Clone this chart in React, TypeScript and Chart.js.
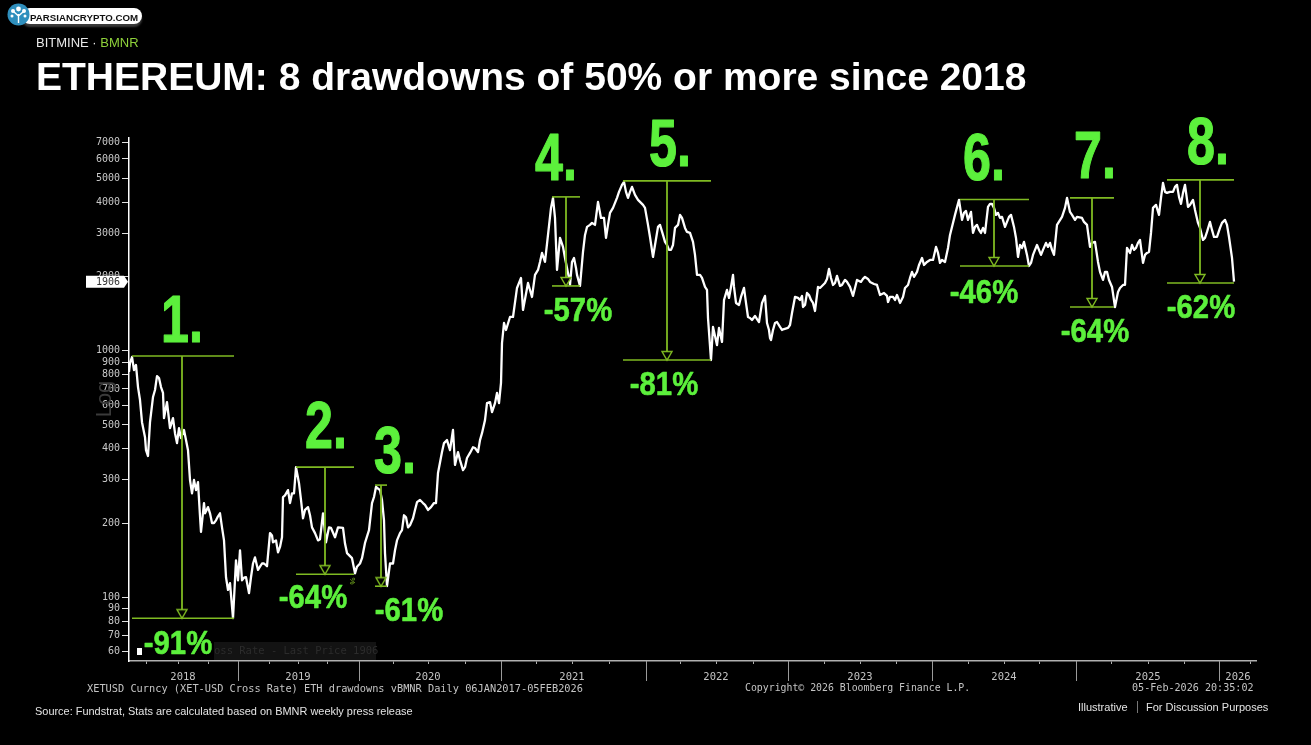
import { useEffect, useRef } from 'react';
import { Chart, registerables } from 'chart.js';

Chart.register(...registerables);

// x is the chart's own session count, counted from the left end of the axis
const sessions = [
  0, 3, 5, 7, 9, 11, 13, 16, 17, 19, 21, 24, 26, 28, 32, 35, 38, 41, 44, 48, 50, 52, 55, 59, 63, 65, 67, 69, 72, 75, 76, 79,
  83, 87, 91, 95, 97, 99, 101, 104, 107, 109, 111, 113, 117, 120, 122, 126, 129, 133, 138, 141, 144, 149, 153, 154, 159, 161, 165, 167, 170, 174,
  179, 183, 189, 194, 197, 202, 206, 214, 218, 223, 226, 231, 236, 243, 247, 251, 253, 255, 256, 258, 261, 264, 268, 271, 275, 279, 284, 288, 294, 299,
  307, 309, 313, 318, 321, 324, 326, 329, 334, 338, 344, 349, 353, 356, 358, 363, 368, 370, 372, 373, 375, 377, 381, 384, 388, 392, 394, 399, 403, 409,
  413, 416, 419, 422, 424, 426, 428, 431, 434, 438, 441, 443, 445, 448, 451, 454, 458, 463, 466, 469, 472, 475, 477, 481, 488, 493, 495, 499, 503, 506,
  511, 516, 519, 524, 529, 534, 538, 542, 546, 551, 556, 561, 564, 568, 573, 578, 579, 582, 584, 588, 590, 593, 595, 598, 600, 604, 607, 610, 615, 619,
  623, 626, 630, 633, 636, 638, 641, 644, 648, 653, 659, 663, 666, 673, 676, 678, 682, 686, 689, 696, 700, 704, 708, 711, 718, 724, 728, 732, 736, 741,
  748, 751, 758, 759, 764, 768, 771, 776, 779, 783, 785, 793, 795, 801, 804, 807, 811, 816, 821, 826, 830, 833, 837, 839, 842, 844, 848, 852, 856, 859,
  863, 867, 871, 876, 882, 885, 889, 891, 895, 900, 904, 908, 912, 917, 921, 925, 928, 933, 938, 941, 946, 953, 958, 961, 966, 969, 974, 978, 983, 986,
  989, 996, 998, 1003, 1007, 1011, 1014, 1018, 1022, 1024, 1030, 1034, 1038, 1044, 1048, 1052, 1056, 1059, 1064, 1069, 1074, 1078, 1081, 1085, 1091, 1096, 1100, 1103, 1105,
];

const prices = [
  820, 943, 835, 875, 712, 631, 513, 446, 395, 374, 513, 649, 693, 789, 712, 533, 619, 485, 533, 422, 485, 442, 477, 395, 264, 299, 272, 293, 184, 241, 219, 232,
  200, 205, 219, 170, 120.5, 107, 114, 82.2, 141, 117, 155, 117, 120.5, 104, 120.5, 145, 129, 137, 133.6, 182, 167, 152, 175, 255, 272, 241, 264, 337, 290, 209,
  232, 192, 170, 219, 167, 191, 175, 191, 151, 144, 125, 137, 166, 241, 280, 272, 248, 205, 151, 111, 137, 137, 170, 182, 215, 192, 209, 243, 241, 226,
  241, 319, 388, 434, 395, 477, 344, 388, 328, 367, 406, 388, 463, 523, 613, 564, 674, 613, 740, 1075, 1296, 1214, 1371, 1371, 1798, 1974, 1464, 1884, 1653, 2128,
  2494, 2293, 2951, 3799, 4172, 3459, 2128, 2869, 2638, 2168, 1849, 2293, 2380, 2031, 1832, 2517, 3180, 3301, 3240, 4018, 3459, 3459, 2869, 3625, 4172, 4710, 4844, 4172, 4622, 4290,
  4018, 3799, 3240, 2402, 3180, 2951, 2687, 2565, 3150, 3558, 3150, 3006, 2764, 2031, 1974, 1765, 1358, 917, 1249, 1055, 1237, 1086, 1607, 1765, 1638, 2031, 1563, 1534, 1798, 1371,
  1333, 1384, 1308, 1563, 1669, 1296, 1127, 1214, 1308, 1214, 1237, 1423, 1653, 1669, 1534, 1716, 1607, 1450, 1815, 1884, 2148, 1849, 2012, 1832, 1902, 1669, 1938, 1902, 1993, 1902,
  1849, 1684, 1669, 1577, 1653, 1684, 1563, 1798, 1849, 2089, 1993, 2380, 2229, 2336, 2336, 2638, 2271, 2293, 2951, 3558, 4094, 3395, 3692, 3395, 3659, 3006, 3240, 3006, 3006, 3834,
  3944, 3558, 3459, 3180, 3558, 3180, 2402, 2687, 2764, 2208, 2448, 2687, 2448, 2739, 2739, 2448, 3240, 3492, 4172, 3659, 3395, 3459, 3240, 2638, 2764, 2293, 1938, 2089, 1815, 1505,
  1732, 1849, 2613, 2687, 2613, 2816, 2271, 2494, 3006, 3799, 3558, 4798, 4370, 4412, 4710, 3944, 4710, 3834, 4094, 3301, 2816, 3035, 3332, 2895, 3150, 3395, 2895, 2380, 1906,
];

// second pass over the trace, the wiggles between the turning points above
const detailSessions = [
  1, 30, 34, 46, 57, 61, 71, 81, 85, 89, 93, 115, 124, 131, 135, 143, 147, 151, 156, 163, 172, 176, 181,
  186, 191, 200, 209, 216, 228, 233, 240, 245, 266, 273, 277, 281, 286, 291, 296, 302, 305, 315, 331, 336, 341, 346, 351, 361, 366,
  406, 411, 436, 440, 447, 456, 461, 479, 484, 490, 497, 501, 509, 514, 521, 526, 531, 536, 540, 544, 549, 553, 558, 566, 571, 576,
  602, 605, 612, 617, 621, 628, 640, 642, 646, 651, 655, 661, 669, 671, 674, 680, 684, 691, 694, 698, 702, 706, 713, 716, 721, 726, 734, 739, 745, 755, 761, 766, 774, 781, 788, 790, 798, 809, 813, 819,
  835, 846, 850, 854, 861, 865, 869, 873, 878, 880, 887, 893, 898, 902, 906, 910, 914, 919, 923, 936, 943, 948, 955, 963, 971, 976, 980, 991, 994,
  1001, 1005, 1009, 1016, 1020, 1027, 1032, 1036, 1041, 1046, 1050, 1054, 1061, 1066, 1071, 1076, 1083, 1088, 1093, 1098,
];

const detailPrices = [
  892, 775, 674, 463, 434, 299, 213, 219, 200, 213, 192, 120, 137, 133, 137, 178, 170, 160, 259, 264, 248, 226, 215,
  182, 172, 192, 192, 165, 133, 144, 187, 255, 155, 187, 211, 196, 226, 248, 237, 232, 241, 422, 360, 337, 385, 403, 434, 619, 613,
  2031, 2293, 2380, 1974, 2168, 2951, 3240, 3240, 3799, 4412, 4412, 4412, 4094, 3906, 2895, 2687, 3240, 2764, 2565, 2687, 3240, 3459, 3035, 2448, 2031, 1815,
  1815, 1815, 1653, 1563, 1358, 1345, 1214, 1106, 1296, 1249, 1225, 1272, 1638, 1607, 1505, 1684, 1563, 1798, 1849, 1956, 1974, 1884, 1849, 1938, 1815, 1798, 1956, 1956, 1866, 1716, 1653, 1607, 1653, 1974, 2089, 2229, 2293, 2494, 2336, 2613,
  3625, 3180, 3092, 3150, 3944, 3799, 3625, 3492, 3332, 3492, 2869, 2613, 2448, 2271, 2565, 2565, 2565, 2638, 2565, 3799, 3558, 3492, 3332, 2739, 2089, 2089, 1938, 1798, 1849,
  2494, 2565, 2739, 2448, 2517, 3906, 4172, 4412, 4412, 4622, 4210, 4370, 3906, 3728, 3150, 2869, 3092, 2895, 3301, 3240,
];

const lastPrice = 1906;

const yTicks = [7000, 6000, 5000, 4000, 3000, 2000, 1000, 900, 800, 700, 600, 500, 400, 300, 200, 100, 90, 80, 70, 60];

const quarterTicks = [
  17, 49, 79, 109, 140, 169, 198, 230, 264, 299, 336, 372, 407, 443, 480, 517, 551, 587, 624, 659, 695, 731, 767, 803, 839, 875, 910, 947, 982, 1019, 1055, 1090, 1121,
];
const yearLabels = ['2018', '2019', '2020', '2021', '2022', '2023', '2024', '2025', '2026'];
const yearCenters = [54, 169, 299, 443, 587, 731, 875, 1019, 1109];
const yearEnds = [109, 230, 372, 517, 659, 803, 947, 1090];

const drawdownNumbers = ['1.', '2.', '3.', '4.', '5.', '6.', '7.', '8.'];
const drawdownPercents = ['-91%', '-64%', '-61%', '-57%', '-81%', '-46%', '-64%', '-62%'];
const peakValues = [952, 337, 285, 4210, 4889, 4110, 4172, 4935];
const troughValues = [82.2, 124, 110.8, 1832, 917, 2208, 1505, 1884];
const rangeStarts = [3, 167, 246, 423, 494, 831, 941, 1038];
const rangeEnds = [105, 225, 258, 451, 582, 900, 985, 1105];
const dropSessions = [53, 196, 252, 437, 538, 865, 963, 1071];

// where the big green text sits on the slide: centre x, baseline y
const numberSpots = [[182, 342], [326, 448], [395, 473], [556, 180], [670, 166], [984, 180], [1095, 178], [1208, 164]];
const percentSpots = [[178, 654], [313, 608], [409, 621], [578, 321], [664, 395], [984, 303], [1095, 342], [1201, 318]];

const GREEN = '#5cf03c';
const OLIVE = '#7fba22';
const MONO = '"DejaVu Sans Mono"';
const SANS = '"Liberation Sans"';

const makeArrow = () => {
  // the tip sits on the canvas centre, so the point lands on the trough value
  const c = document.createElement('canvas');
  c.width = 14;
  c.height = 20;
  const ctx = c.getContext('2d');
  ctx.beginPath();
  ctx.moveTo(2, 1.5);
  ctx.lineTo(12, 1.5);
  ctx.lineTo(7, 10);
  ctx.closePath();
  ctx.fillStyle = '#000';
  ctx.fill();
  ctx.strokeStyle = OLIVE;
  ctx.lineWidth = 1.4;
  ctx.stroke();
  return c;
};

const squeezedText = (ctx, text, x, y, font, squeeze, weight) => {
  ctx.save();
  ctx.translate(x, y);
  ctx.scale(squeeze, 1);
  ctx.font = font;
  ctx.textAlign = 'center';
  ctx.textBaseline = 'alphabetic';
  ctx.fillStyle = GREEN;
  ctx.strokeStyle = GREEN;
  ctx.lineWidth = weight;
  ctx.lineJoin = 'round';
  ctx.fillText(text, 0, 0);
  ctx.strokeText(text, 0, 0);
  ctx.restore();
};

const slidePlugin = {
  id: 'slideMarks',
  beforeDatasetsDraw(chart) {
    const { ctx } = chart;
    const x = chart.scales.x;
    const top = x.top;
    ctx.save();
    // year separators under the axis
    ctx.strokeStyle = '#9a9a9a';
    ctx.lineWidth = 1;
    yearEnds.forEach((v) => {
      const px = Math.round(x.getPixelForValue(v)) + 0.5;
      ctx.beginPath();
      ctx.moveTo(px, top);
      ctx.lineTo(px, top + 20);
      ctx.stroke();
    });
    // Bloomberg legend strip, nearly black on black
    ctx.fillStyle = '#131313';
    ctx.fillRect(130, 642, 246, 18);
    ctx.fillStyle = '#000';
    ctx.fillRect(130, 642, 84, 18);
    ctx.fillStyle = '#2c2c2c';
    ctx.font = `10.5px ${MONO}`;
    ctx.textAlign = 'left';
    ctx.textBaseline = 'middle';
    ctx.fillText('oss Rate - Last Price 1906', 214, 651);
    ctx.fillStyle = '#fff';
    ctx.fillRect(137, 648, 5, 7);
    // rotated axis unit
    ctx.translate(105, 399);
    ctx.rotate(-Math.PI / 2);
    ctx.fillStyle = '#3a3a3a';
    ctx.font = `22px ${SANS}`;
    ctx.textAlign = 'center';
    ctx.fillText('Log', 0, 0);
    ctx.restore();
  },
  afterDraw(chart) {
    const { ctx } = chart;
    const y = chart.scales.y;
    const flagY = y.getPixelForValue(lastPrice);
    ctx.save();
    // last price flag on the value axis
    ctx.fillStyle = '#fff';
    ctx.beginPath();
    ctx.moveTo(86, flagY - 6);
    ctx.lineTo(124, flagY - 6);
    ctx.lineTo(128, flagY);
    ctx.lineTo(124, flagY + 6);
    ctx.lineTo(86, flagY + 6);
    ctx.closePath();
    ctx.fill();
    ctx.fillStyle = '#333';
    ctx.font = `10px ${MONO}`;
    ctx.textAlign = 'left';
    ctx.textBaseline = 'middle';
    ctx.fillText(String(lastPrice), 96, flagY + 0.5);
    // stray percent sign left by the drawing tool
    ctx.translate(352, 581);
    ctx.rotate(Math.PI / 2);
    ctx.fillStyle = OLIVE;
    ctx.font = `8px ${SANS}`;
    ctx.textAlign = 'center';
    ctx.fillText('%', 0, 0);
    ctx.restore();

    drawdownNumbers.forEach((label, i) => {
      squeezedText(ctx, label, numberSpots[i][0], numberSpots[i][1], `bold 67px ${SANS}`, 0.75, 1.2);
    });
    drawdownPercents.forEach((label, i) => {
      squeezedText(ctx, label, percentSpots[i][0], percentSpots[i][1], `bold 34px ${SANS}`, 0.86, 0.6);
    });
  },
};

const ChartCanvas = () => {
  const chartRef = useRef(null);

  useEffect(() => {
    const arrow = makeArrow();
    const hLine = (from, to, value) => ({
      type: 'line',
      data: [{ x: from, y: value }, { x: to, y: value }],
      borderColor: OLIVE,
      borderWidth: 1.6,
      pointRadius: 0,
      order: 1,
    });

    const drawdownSets = [];
    peakValues.forEach((peak, i) => {
      drawdownSets.push(hLine(rangeStarts[i], rangeEnds[i], peak));
      drawdownSets.push(hLine(rangeStarts[i], rangeEnds[i], troughValues[i]));
      drawdownSets.push({
        type: 'line',
        data: [{ x: dropSessions[i], y: peak }, { x: dropSessions[i], y: troughValues[i] }],
        borderColor: OLIVE,
        borderWidth: 1.8,
        pointRadius: [0, 7],
        pointStyle: arrow,
        order: 1,
      });
    });

    const allTicks = [...new Set([...quarterTicks, ...yearCenters])].sort((a, b) => a - b);
    const trace = [
      ...sessions.map((s, i) => ({ x: s, y: prices[i] })),
      ...detailSessions.map((s, i) => ({ x: s, y: detailPrices[i] })),
    ].sort((a, b) => a.x - b.x);

    const chartInstance = new Chart(chartRef.current, {
      type: 'line',
      data: {
        datasets: [
          {
            data: trace,
            borderColor: '#ffffff',
            borderWidth: 2.3,
            borderJoinStyle: 'round',
            pointRadius: 0,
            tension: 0,
            order: 2,
          },
          ...drawdownSets,
        ],
      },
      options: {
        responsive: false,
        animation: false,
        layout: { padding: { left: 0, right: 55, top: 138, bottom: 0 } },
        plugins: { legend: { display: false }, tooltip: { enabled: false } },
        scales: {
          x: {
            type: 'linear',
            min: 0,
            max: 1127,
            afterBuildTicks: (scale) => {
              scale.ticks = allTicks.map((value) => ({ value }));
            },
            afterFit: (scale) => {
              scale.height = 84;
            },
            border: { color: '#b0b0b0', width: 1.5 },
            grid: {
              drawOnChartArea: false,
              tickLength: 3,
              tickColor: (c) => (quarterTicks.includes(c.tick?.value) ? '#b0b0b0' : 'transparent'),
            },
            ticks: {
              autoSkip: false,
              maxRotation: 0,
              padding: 7,
              color: '#c4c4c4',
              font: { family: 'DejaVu Sans Mono', size: 10.5 },
              callback: (value) => {
                const i = yearCenters.indexOf(value);
                return i >= 0 ? yearLabels[i] : '';
              },
            },
          },
          y: {
            type: 'logarithmic',
            min: 55.1,
            max: 7298,
            afterBuildTicks: (scale) => {
              scale.ticks = yTicks.map((value) => ({ value }));
            },
            afterFit: (scale) => {
              scale.width = 129;
            },
            border: { color: '#ffffff', width: 1.5 },
            grid: { drawOnChartArea: false, tickLength: 7, tickColor: '#e0e0e0' },
            ticks: {
              autoSkip: false,
              padding: 2,
              color: '#c8c8c8',
              font: { family: 'DejaVu Sans Mono', size: 10 },
              callback: (value) => String(value),
            },
          },
        },
      },
      plugins: [slidePlugin],
    });

    return () => {
      chartInstance.destroy();
    };
  }, []);

  return <canvas ref={chartRef} width={1311} height={745} style={{ position: 'absolute', left: 0, top: 0, display: 'block' }} />;
};

const place = (left, top, style) => ({ position: 'absolute', left, top, whiteSpace: 'nowrap', lineHeight: 1, ...style });

const Logo = () => (
  <div style={place(6, 2, { width: 140, height: 28 })}>
    <div style={place(16, 6, { width: 120, height: 16, borderRadius: 8, background: '#fff', boxShadow: '0 3px 2px #3a3a3a' })} />
    <svg width="26" height="26" style={{ position: 'absolute', left: 0, top: 0 }}>
      <circle cx="12.5" cy="12.5" r="11" fill="#2f8fbd" />
      <path d="M12.5 21 V12 M12.5 14 L7 9 M12.5 14 L18 9" stroke="#fff" strokeWidth="1.4" fill="none" />
      <circle cx="12.5" cy="7" r="2.4" fill="#fff" />
      <circle cx="7" cy="9" r="2" fill="#fff" />
      <circle cx="18" cy="9" r="2" fill="#fff" />
      <circle cx="6" cy="14" r="1.5" fill="#fff" />
      <circle cx="19" cy="14" r="1.5" fill="#fff" />
    </svg>
    <div style={place(24, 9.5, { font: `bold 9.7px ${SANS}`, color: '#111', lineHeight: '10px' })}>PARSIANCRYPTO.COM</div>
  </div>
);

const App = () => (
  <div style={{ position: 'absolute', left: 0, top: 0, width: 1311, height: 745, background: '#000', overflow: 'hidden' }}>
    <ChartCanvas />
    <Logo />
    <div style={place(36, 34.5, { font: `13px ${SANS}`, color: '#e8e8e8' })}>
      BITMINE · <span style={{ color: '#8ed13a' }}>BMNR</span>
    </div>
    <div style={place(36, 55, { font: `bold 39px ${SANS}`, color: '#fff' })}>ETHEREUM: 8 drawdowns of 50% or more since 2018</div>
    <div style={place(87, 682, { font: `10.3px ${MONO}`, color: '#c4c4c4' })}>
      XETUSD Curncy (XET-USD Cross Rate) ETH drawdowns vBMNR Daily 06JAN2017-05FEB2026
    </div>
    <div style={place(745, 682, { font: `9.85px ${MONO}`, color: '#c4c4c4' })}>Copyright© 2026 Bloomberg Finance L.P.</div>
    <div style={place(1132, 682, { font: `10.1px ${MONO}`, color: '#c4c4c4' })}>05-Feb-2026 20:35:02</div>
    <div style={place(35, 705, { font: `10.95px ${SANS}`, color: '#e4e4e4' })}>
      Source: Fundstrat, Stats are calculated based on BMNR weekly press release
    </div>
    <div style={place(1078, 701, { font: `11px ${SANS}`, color: '#e4e4e4' })}>Illustrative</div>
    <div style={place(1137, 701, { width: 1, height: 12, background: '#777' })} />
    <div style={place(1146, 701, { font: `11px ${SANS}`, color: '#e4e4e4' })}>For Discussion Purposes</div>
  </div>
);

export default App;
